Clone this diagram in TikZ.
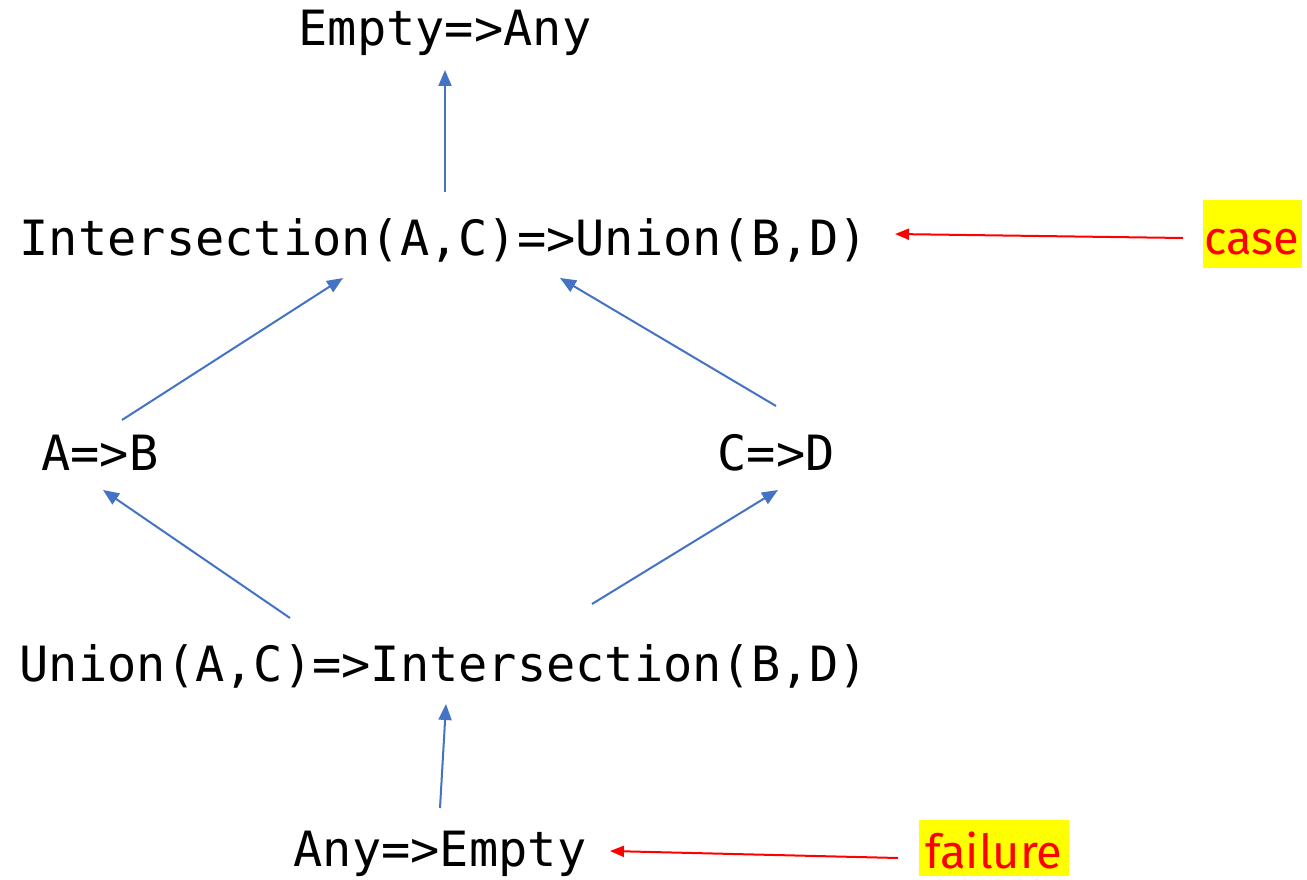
\documentclass[tikz,border=0pt]{standalone}
\usepackage{fontspec}
\setmonofont{DejaVu Sans Mono}
\newfontfamily\labelfont{Fira Sans}
\usetikzlibrary{arrows.meta}
\definecolor{edgeblue}{RGB}{68,114,196}
\definecolor{hlyellow}{RGB}{255,255,0}
\definecolor{hlred}{RGB}{255,0,0}
\begin{document}
\begin{tikzpicture}[x=1pt,y=-1pt,
  term/.style={inner sep=0pt, font=\ttfamily\fontsize{48.6}{58}\selectfont},
  tag/.style={fill=hlyellow, text=hlred, inner sep=0pt, text depth=0pt, font=\labelfont\fontsize{47}{54}\selectfont},
  up/.style={draw=edgeblue, line width=2pt, -{Triangle[length=16pt,width=13pt]}},
  note/.style={draw=hlred, line width=2pt, -{Triangle[length=14pt,width=11pt]}}]
\useasboundingbox (0,0) rectangle (1307,880);
\node[term] (ea) at (445,33) {Empty=>Any};
\node[term] (iu) at (444,240) {Intersection(A,C)=>Union(B,D)};
\node[term] (ab) at (100,453) {A=>B};
\node[term] (cd) at (776,453) {C=>D};
\node[term] (ui) at (444,666) {Union(A,C)=>Intersection(B,D)};
\node[term] (ae) at (440,854) {Any=>Empty};
\node[tag, text height=40pt, minimum width=99pt, minimum height=68pt] (case) at (1252,234) {case};
\node[tag, text height=40pt, minimum width=150pt, minimum height=56pt] (fail) at (994,848) {failure};
% connector end points
\coordinate (iuT) at (445,192);
\coordinate (eaB) at (445,70);
\coordinate (abT) at (122,420);
\coordinate (iuBL) at (343,278);
\coordinate (cdT) at (776,406);
\coordinate (iuBR) at (560,278);
\coordinate (uiTL) at (290,618);
\coordinate (abB) at (103,490);
\coordinate (uiTR) at (592,604);
\coordinate (cdB) at (778,490);
\coordinate (aeT) at (440,808);
\coordinate (uiB) at (446,704);
\coordinate (caseL) at (1183,238);
\coordinate (iuR) at (895,234);
\coordinate (failL) at (898,858);
\coordinate (aeR) at (610,851);
\draw[up] (iuT) -- (eaB);
\draw[up] (abT) -- (iuBL);
\draw[up] (cdT) -- (iuBR);
\draw[up] (uiTL) -- (abB);
\draw[up] (uiTR) -- (cdB);
\draw[up] (aeT) -- (uiB);
\draw[note] (caseL) -- (iuR);
\draw[note] (failL) -- (aeR);
\end{tikzpicture}
\end{document}
